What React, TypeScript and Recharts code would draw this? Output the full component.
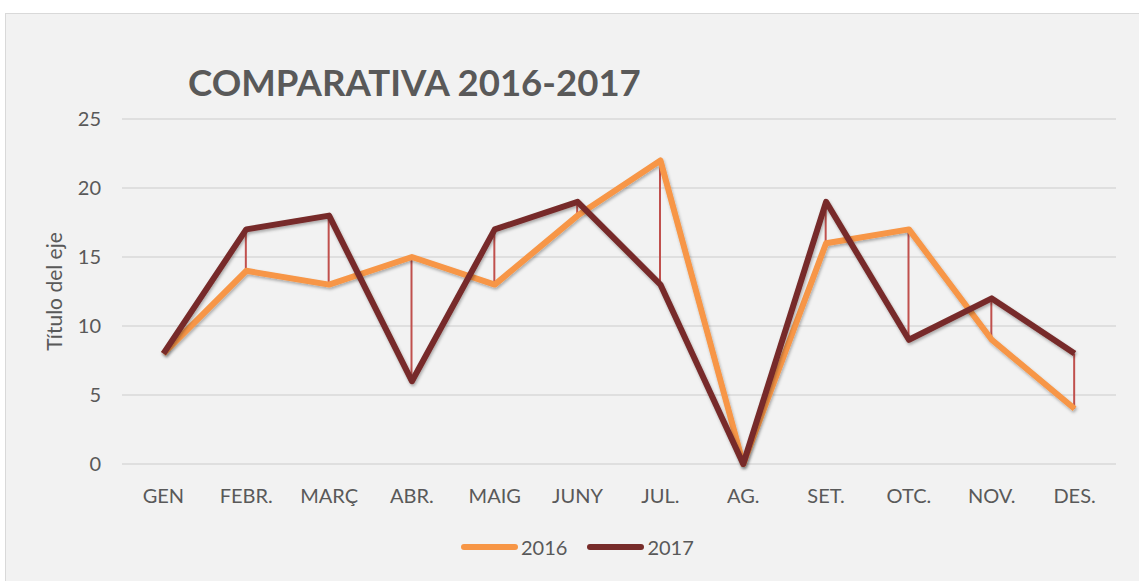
import React from "react";
import { ComposedChart, Line, Bar, XAxis, YAxis, CartesianGrid, Label } from "recharts";

const months = ["GEN", "FEBR.", "MARÇ", "ABR.", "MAIG", "JUNY", "JUL.", "AG.", "SET.", "OTC.", "NOV.", "DES."];
const values2016 = [8, 14, 13, 15, 13, 18, 22, 0, 16, 17, 9, 4];
const values2017 = [8, 17, 18, 6, 17, 19, 13, 0, 19, 9, 12, 8];
const yTicks = [0, 5, 10, 15, 20, 25];

const data = months.map((m, i) => ({ month: m, y2016: values2016[i], y2017: values2017[i] }));

const FONT = "Lato, 'Open Sans', sans-serif";
const TEXT = "#595959";
const ORANGE = "#F79646";
const DARK = "#772C2A";

const legendItems = [
  { label: "2016", color: ORANGE },
  { label: "2017", color: DARK },
];

export default function App() {
  return (
    <div style={{ position: "absolute", left: 0, top: 0, width: 1139, height: 581, background: "#fff", overflow: "hidden" }}>
      <div style={{ position: "absolute", left: 5, top: 13, width: 1150, height: 590, background: "#F2F2F2", border: "1.5px solid #D9D9D9" }} />
      <div style={{ position: "absolute", left: 188, top: 60, fontFamily: FONT, fontWeight: 700, fontSize: 36.6, color: TEXT, whiteSpace: "nowrap" }}>
        COMPARATIVA 2016-2017
      </div>
      <div style={{ position: "absolute", left: 0, top: 0 }}>
        <ComposedChart width={1139} height={581} data={data} margin={{ top: 119, right: 23, bottom: 87, left: 0 }}>
          <defs>
            <filter id="lineShadow" x="-5%" y="-5%" width="110%" height="120%">
              <feDropShadow dx="1" dy="2" stdDeviation="1.5" floodColor="#000" floodOpacity="0.3" />
            </filter>
          </defs>
          <CartesianGrid vertical={false} stroke="#D9D9D9" strokeWidth={1.5} />
          <XAxis
            dataKey="month"
            height={30}
            axisLine={false}
            tickLine={false}
            tick={{ fill: TEXT, fontSize: 20, fontFamily: FONT }}
            tickMargin={19}
            interval={0}
          />
          <YAxis
            width={122}
            domain={[0, 25]}
            ticks={yTicks}
            axisLine={false}
            tickLine={false}
            tickSize={0}
            tickMargin={21}
            tick={{ fill: TEXT, fontSize: 20, fontFamily: FONT }}
          >
            <Label value="Título del eje" angle={-90} position="insideLeft" offset={55} style={{ fill: TEXT, fontSize: 21, fontFamily: FONT, textAnchor: "middle" }} />
          </YAxis>
          <Line
            type="linear"
            dataKey="y2016"
            name="2016"
            stroke={ORANGE}
            strokeWidth={6}
            dot={false}
            activeDot={false}
            strokeLinejoin="round"
            filter="url(#lineShadow)"
            isAnimationActive={false}
          />
          <Line
            type="linear"
            dataKey="y2017"
            name="2017"
            stroke={DARK}
            strokeWidth={6}
            dot={false}
            activeDot={false}
            strokeLinejoin="round"
            filter="url(#lineShadow)"
            isAnimationActive={false}
          />
          <Bar
            dataKey={(d: any) => [Math.min(d.y2016, d.y2017), Math.max(d.y2016, d.y2017)]}
            name="range"
            barSize={2}
            fill="#C0504D"
            isAnimationActive={false}
          />
        </ComposedChart>
      </div>
      <div style={{ position: "absolute", left: 461, top: 535, display: "flex", alignItems: "center", fontFamily: FONT, fontSize: 20, color: TEXT }}>
        {legendItems.map((it) => (
          <div key={it.label} style={{ display: "flex", alignItems: "center", marginRight: 20 }}>
            <span style={{ display: "inline-block", width: 57, height: 6, borderRadius: 3, background: it.color, marginRight: 3 }} />
            <span>{it.label}</span>
          </div>
        ))}
      </div>
    </div>
  );
}
